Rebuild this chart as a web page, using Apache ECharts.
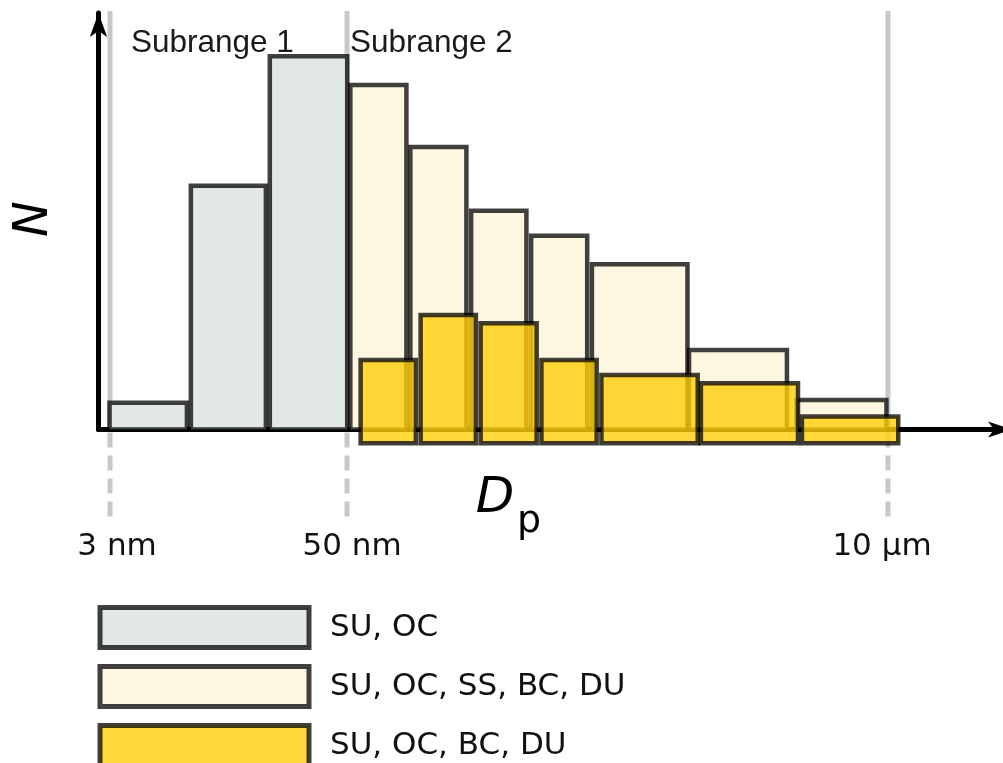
<!DOCTYPE html>
<html><head><meta charset="utf-8">
<script src="https://cdn.jsdelivr.net/npm/echarts@6/dist/echarts.min.js"></script>
<style>html,body{margin:0;padding:0;background:#fff}#c{width:1003px;height:763px}</style>
</head><body><div id="c"></div>
<script>
// Schematic diameter units (3 nm boundary ~1.5, 50 nm ~31.5, 10 µm = 100), N in arbitrary units
const seriesNames = ['SU, OC', 'SU, OC, SS, BC, DU', 'SU, OC, BC, DU'];
const sub1Left  = [1.4, 11.7, 21.7];
const sub1Right = [11.2, 21.2, 31.5];
const sub1N     = [6.4, 58.5, 89.6];
const fullLeft  = [31.9, 39.5, 47.2, 54.8, 62.5, 74.8, 88.4];
const fullRight = [39.0, 46.6, 54.2, 61.9, 74.6, 87.2, 99.8];
const fullN     = [82.7, 67.8, 52.5, 46.5, 39.7, 19.1, 7.1];
const partLeft  = [33.2, 40.8, 48.4, 56.1, 63.7, 76.3, 89.1];
const partRight = [40.2, 47.8, 55.5, 63.1, 75.9, 88.6, 101.3];
const partN     = [16.7, 27.5, 25.5, 16.7, 13.1, 11.1, 3.1];
const partBase  = -3.3;
const boundaryValues = [1.46, 31.48, 100];
const boundaryLabels = ['3 nm', '50 nm', '10 µm'];
const subrangeLabels = ['Subrange 1', 'Subrange 2'];
const guideTop = 100.5, guideBottom = -22.2;

const STROKE = 'rgba(0,0,0,0.75)';
const fills = ['#e2e8e8', '#fdf6e0', 'rgba(255,206,9,0.8)'];

function rows(L, R, base, N) { return L.map((l, i) => [l, R[i], base, N[i]]); }

function barRender(fill) {
  return function (params, api) {
    const p0 = api.coord([api.value(0), api.value(3)]);
    const p1 = api.coord([api.value(1), api.value(2)]);
    return {
      type: 'rect',
      shape: { x: p0[0], y: p0[1], width: p1[0] - p0[0], height: p1[1] - p0[1] },
      style: { fill: fill, stroke: STROKE, lineWidth: 4.5 }
    };
  };
}

const chart = echarts.init(document.getElementById('c'), null, { renderer: 'canvas' });
const tickRich = {
  a: { fontFamily: 'DejaVu Sans', fontSize: 31, color: '#111', padding: [0, 0, 0, 14] },
  b: { fontFamily: 'DejaVu Sans', fontSize: 31, color: '#111', padding: [0, 0, 0, 10] },
  c: { fontFamily: 'DejaVu Sans', fontSize: 31, color: '#111', padding: [0, 12, 0, 0] }
};
const option = {
  animation: false,
  backgroundColor: '#fff',
  grid: { left: 98.5, right: 1, top: 13, bottom: 333.5, containLabel: false },
  xAxis: {
    type: 'value', min: 0, max: 114.44, z: 1,
    axisLine: { lineStyle: { color: '#000', width: 5 }, symbol: ['none', 'arrow'], symbolSize: [12, 24], symbolOffset: [0, 10] },
    axisTick: { show: false }, splitLine: { show: false },
    axisLabel: {
      customValues: boundaryValues, margin: 117, verticalAlign: 'middle',
      formatter: function (v) {
        const i = boundaryValues.indexOf(v);
        return '{' + 'abc'[i] + '|' + boundaryLabels[i] + '}';
      },
      rich: tickRich
    }
  },
  yAxis: {
    type: 'value', min: 0, max: 100, z: 1,
    axisLine: { lineStyle: { color: '#000', width: 5 }, symbol: ['none', 'arrow'], symbolSize: [13, 24], symbolOffset: [0, 0] },
    axisTick: { show: false }, splitLine: { show: false }, axisLabel: { show: false }
  },
  legend: {
    orient: 'vertical', left: 97.5, top: 605, height: 260, padding: 0, itemGap: 14,
    itemWidth: 209, itemHeight: 40, selectedMode: false,
    textStyle: { fontFamily: 'DejaVu Sans', fontSize: 31, color: '#111', padding: [0, 0, 0, 16] },
    data: seriesNames.map((n, i) => ({
      name: n, icon: 'rect',
      itemStyle: { color: fills[i], borderColor: STROKE, borderWidth: 5 }
    }))
  },
  series: [
    {
      type: 'custom', z: 0, silent: true,
      data: boundaryValues.map(v => [v]),
      renderItem: function (params, api) {
        const x = api.value(0);
        const t = api.coord([x, guideTop]);
        const m = api.coord([x, 0]);
        const b = api.coord([x, guideBottom]);
        return { type: 'group', children: [
          { type: 'line', shape: { x1: t[0], y1: t[1], x2: m[0], y2: m[1] }, style: { stroke: '#c8c8c8', lineWidth: 5 } },
          { type: 'line', shape: { x1: m[0], y1: m[1] + 3, x2: b[0], y2: b[1] }, style: { stroke: '#c8c8c8', lineWidth: 5, lineDash: [15, 8] } }
        ] };
      }
    },
    { name: seriesNames[0], type: 'custom', z: 2, data: rows(sub1Left, sub1Right, 0, sub1N), renderItem: barRender(fills[0]), itemStyle: { color: fills[0] } },
    { name: seriesNames[1], type: 'custom', z: 2, data: rows(fullLeft, fullRight, 0, fullN), renderItem: barRender(fills[1]), itemStyle: { color: fills[1] } },
    { name: seriesNames[2], type: 'custom', z: 3, data: rows(partLeft, partRight, partBase, partN), renderItem: barRender(fills[2]), itemStyle: { color: fills[2] } }
  ],
  graphic: [
    { type: 'text', x: 131, y: 43, style: { text: subrangeLabels[0], fontFamily: 'Liberation Sans', fontSize: 31.5, fill: '#1a1a1a', textVerticalAlign: 'middle' } },
    { type: 'text', x: 350, y: 43, style: { text: subrangeLabels[1], fontFamily: 'Liberation Sans', fontSize: 31.5, fill: '#1a1a1a', textVerticalAlign: 'middle' } },
    { type: 'text', x: 35, y: 219, rotation: Math.PI / 2, style: { text: 'N', fontFamily: 'DejaVu Sans', fontStyle: 'italic', fontSize: 48, fill: '#000', textAlign: 'center', textVerticalAlign: 'middle' } },
    { type: 'text', x: 495, y: 499, style: { text: 'D', fontFamily: 'DejaVu Sans', fontStyle: 'italic', fontSize: 50, fill: '#000', textAlign: 'center', textVerticalAlign: 'middle' } },
    { type: 'text', x: 529, y: 522, style: { text: 'p', fontFamily: 'DejaVu Sans', fontSize: 38, fill: '#000', textAlign: 'center', textVerticalAlign: 'middle' } }
  ]
};
chart.setOption(option);
</script>
</body></html>
